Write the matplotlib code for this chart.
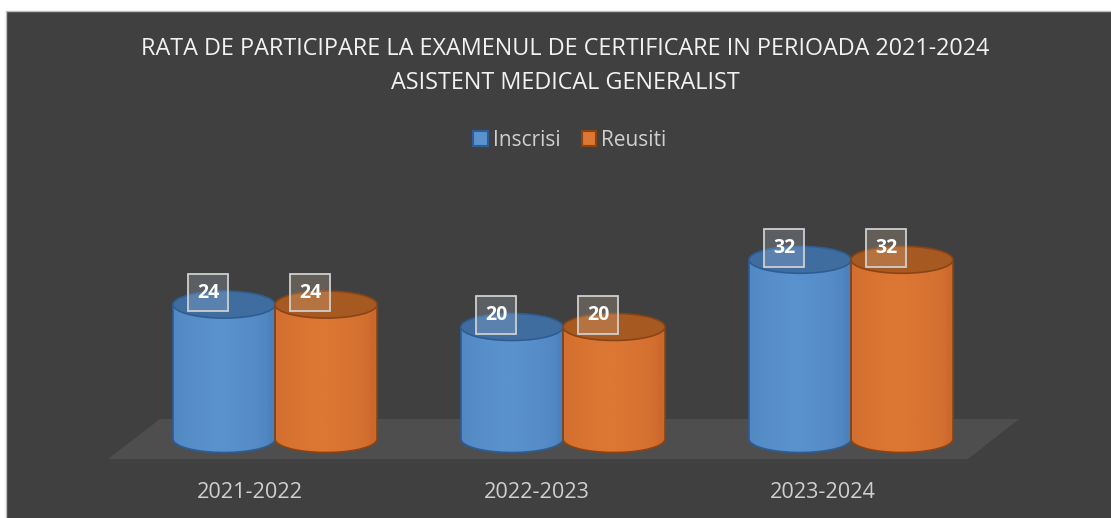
import numpy as np
import matplotlib.pyplot as plt
from matplotlib.patches import Rectangle, Ellipse, Polygon, Patch
import matplotlib.colors as mcolors

plt.rcParams['font.family'] = ['Open Sans', 'DejaVu Sans']

# data
years = ["2021-2022", "2022-2023", "2023-2024"]
inscrisi = [24, 20, 32]
reusiti = [24, 20, 32]
series_names = ["Inscrisi", "Reusiti"]
title = "RATA DE PARTICIPARE LA EXAMENUL DE CERTIFICARE IN PERIOADA 2021-2024\nASISTENT MEDICAL GENERALIST"

# look
W, H = 1111, 518
bg = "#404040"
body_cols = [("#4c82bc", "#5a92cd"), ("#cc682b", "#dc7734")]
top_cols = ["#3f6d9f", "#a65a22"]
edge_cols = ["#2d5d93", "#8a4414"]
label_face = [(0.75, 0.82, 0.9, 0.22), (0.9, 0.8, 0.7, 0.22)]

fig = plt.figure(figsize=(W / 100, H / 100), dpi=100)
fig.patch.set_facecolor("white")

# background panel in pixel space
bgax = fig.add_axes([0, 0, 1, 1])
bgax.set_xlim(0, W)
bgax.set_ylim(H, 0)
bgax.axis("off")
bgax.add_patch(Rectangle((6, 11), W, H, facecolor=bg, edgecolor="#bdbdbd", lw=1))
# floor
bgax.add_patch(Polygon([(160, 419), (1019, 419), (968, 459), (108, 459)],
                       closed=True, facecolor="#4f4e4f", edgecolor="none"))

bgax.text(565, 66, title, ha="center", va="center", color="#f2f2f2",
          fontsize=16.8, linespacing=1.52)

# bars axes: value 0 at pixel 439, 5.6 px per unit, groups 288 px apart
left_px, right_px = 131, 995
y0_px, ppu = 439, 5.6
ylo, yhi = -6, 44
bot_px = y0_px - ylo * ppu
top_px = y0_px - yhi * ppu
ax = fig.add_axes([left_px / W, (H - bot_px) / H, (right_px - left_px) / W,
                   (bot_px - top_px) / H])
ax.patch.set_alpha(0)
ax.axis("off")

bw = 102 / 288
eh = 27 / ppu
x = np.arange(len(years))

grad = np.linspace(0, 1, 64)
grad = 1 - np.abs(grad - 0.45) * 2
grad = np.clip(grad, 0, 1) ** 0.4

for s, vals in enumerate([inscrisi, reusiti]):
    cmap = mcolors.LinearSegmentedColormap.from_list("c", body_cols[s])
    for i, v in enumerate(vals):
        cx = x[i] + (s - 0.5) * bw
        x0, x1 = cx - bw / 2, cx + bw / 2
        # body outline: rectangle + lower half ellipse
        t = np.linspace(np.pi, 2 * np.pi, 40)
        verts = [(x0, v)] + [(cx + bw / 2 * np.cos(a), eh / 2 * np.sin(a)) for a in t] + [(x1, v), (x0, v)]
        body = Polygon(verts, closed=True, facecolor="none", edgecolor=edge_cols[s], lw=1.2, zorder=3)
        ax.add_patch(body)
        im = ax.imshow(grad[None, :], cmap=cmap, extent=[x0, x1, -eh / 2, v],
                       aspect="auto", zorder=2, interpolation="bilinear")
        im.set_clip_path(body)
        ax.add_patch(Ellipse((cx, v), bw, eh, facecolor=top_cols[s],
                             edgecolor=edge_cols[s], lw=1.2, zorder=4))
        ax.annotate(str(v), (cx, v), xytext=(-16, 12), textcoords="offset pixels",
                    ha="center", va="center", color="white", fontsize=14,
                    fontweight="bold", zorder=6,
                    bbox=dict(boxstyle="square,pad=0.45", facecolor=label_face[s],
                              edgecolor="#cfcfcf", lw=1.3))

ax.set_xlim(-0.5, 2.5)
ax.set_ylim(ylo, yhi)

# category labels under the floor
for i, yr in enumerate(years):
    bgax.text(250 + 286.5 * i, 492, yr, ha="center", va="center",
              color="#cfcfcf", fontsize=15.6)

handles = [Patch(facecolor=body_cols[k][1], edgecolor=edge_cols[k], lw=1.5) for k in range(2)]
fig.legend(handles, series_names, loc="center", bbox_to_anchor=(570 / W, 1 - 140 / H),
           ncol=2, frameon=False, fontsize=15, labelcolor="#cfcfcf",
           handlelength=0.7, handleheight=0.7, handletextpad=0.25, columnspacing=1.0)

fig.savefig("out.png", dpi=100, facecolor=fig.get_facecolor())
